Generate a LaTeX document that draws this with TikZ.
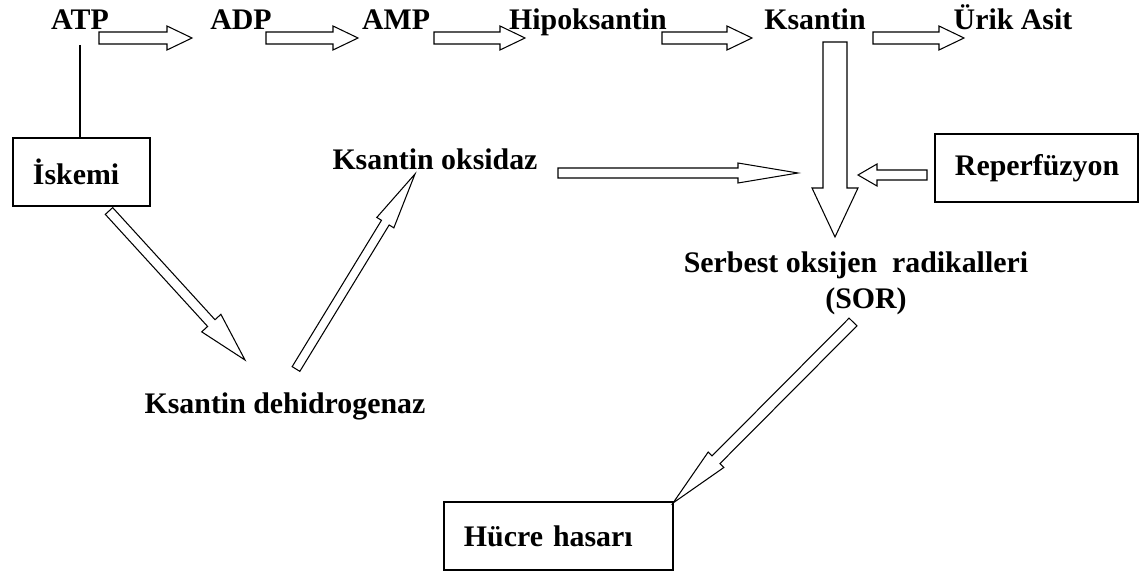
\documentclass[tikz,border=0pt]{standalone}
\usepackage{fontspec}
\setmainfont{Liberation Serif}
\usetikzlibrary{calc}
\tikzset{
  lbl/.style={font=\bfseries\fontsize{17}{20}\selectfont, inner sep=0pt, anchor=base},
  box/.style={draw, line width=1.1pt, font=\bfseries\fontsize{17}{20}\selectfont, align=left,
    inner xsep=0.4cm, minimum height=1.36cm, anchor=north west},
  fat/.style={draw, line width=0.6pt, fill=white, line join=miter}
}
% tail, tip, half shaft, half head, head length
\newcommand{\fatarrow}[5]{%
  \coordinate (fa) at ($(#2)!#5!(#1)$);
  \draw[fat] ($(#1)!#3!90:(#2)$) -- ($(fa)!#3!90:(#2)$) -- ($(fa)!#4!90:(#2)$) -- (#2)
    -- ($(fa)!#4!-90:(#2)$) -- ($(fa)!#3!-90:(#2)$) -- ($(#1)!#3!-90:(#2)$) -- cycle;}
\begin{document}
\begin{tikzpicture}[x=0.02cm, y=-0.02cm]
\useasboundingbox (0,0) rectangle (1139,574);

\node[lbl] (atp) at (80,30) {ATP};
\node[lbl] (adp) at (241,30) {ADP};
\node[lbl] (amp) at (396,30) {AMP};
\node[lbl] (hipo) at (588,30) {Hipoksantin};
\node[lbl] (ksantin) at (815,30) {Ksantin};
\node[lbl] (urik) at (1013,30) {Ürik Asit};
\node[lbl] (ko) at (435,170) {Ksantin oksidaz};
\node[lbl] (kd) at (285,413) {Ksantin dehidrogenaz};
\node[lbl, align=center] (sor) at (856,308) {Serbest oksijen\ \ radikalleri\\\hspace*{0.4cm}(SOR)};

\node[box, text width=1.94cm] (iskemi) at (12,137) {İskemi};
\node[box, text width=3.26cm] (reperf) at (934,133) {Reperfüzyon};
\node[box, text width=3.78cm] (hucre) at (443,501) {Hücre hasarı};

\draw[line width=0.6pt] ([yshift=-0.3cm]atp.base) -- (atp.base |- iskemi.north);

\coordinate (a1s) at (99,38);   \coordinate (a1e) at (192,38);
\coordinate (a2s) at (266,38);  \coordinate (a2e) at (358,38);
\coordinate (a3s) at (434,38);  \coordinate (a3e) at (525,38);
\coordinate (a4s) at (662,38);  \coordinate (a4e) at (752,38);
\coordinate (a5s) at (873,38);  \coordinate (a5e) at (964,38);
\coordinate (dns) at (835,42);  \coordinate (dne) at (835,237);
\coordinate (kos) at (558,173); \coordinate (koe) at (798,173);
\coordinate (res) at (927,175); \coordinate (ree) at (858,175);
\coordinate (iks) at (109,211); \coordinate (ike) at (245,360);
\coordinate (kds) at (296,369); \coordinate (kde) at (415,174);
\coordinate (sos) at (853,322); \coordinate (soe) at (673,503);

\fatarrow{a1s}{a1e}{1.2mm}{2.4mm}{5mm}
\fatarrow{a2s}{a2e}{1.2mm}{2.4mm}{5mm}
\fatarrow{a3s}{a3e}{1.2mm}{2.4mm}{5mm}
\fatarrow{a4s}{a4e}{1.2mm}{2.4mm}{5mm}
\fatarrow{a5s}{a5e}{1.2mm}{2.4mm}{5mm}
\fatarrow{dns}{dne}{2.4mm}{4.6mm}{9.8mm}
\fatarrow{kos}{koe}{1mm}{2mm}{12mm}
\fatarrow{res}{ree}{1mm}{2.2mm}{3.8mm}
\fatarrow{iks}{ike}{1mm}{2.6mm}{10mm}
\fatarrow{kds}{kde}{0.9mm}{2mm}{11.4mm}
\fatarrow{sos}{soe}{1.1mm}{2.2mm}{12.2mm}
\end{tikzpicture}
\end{document}
